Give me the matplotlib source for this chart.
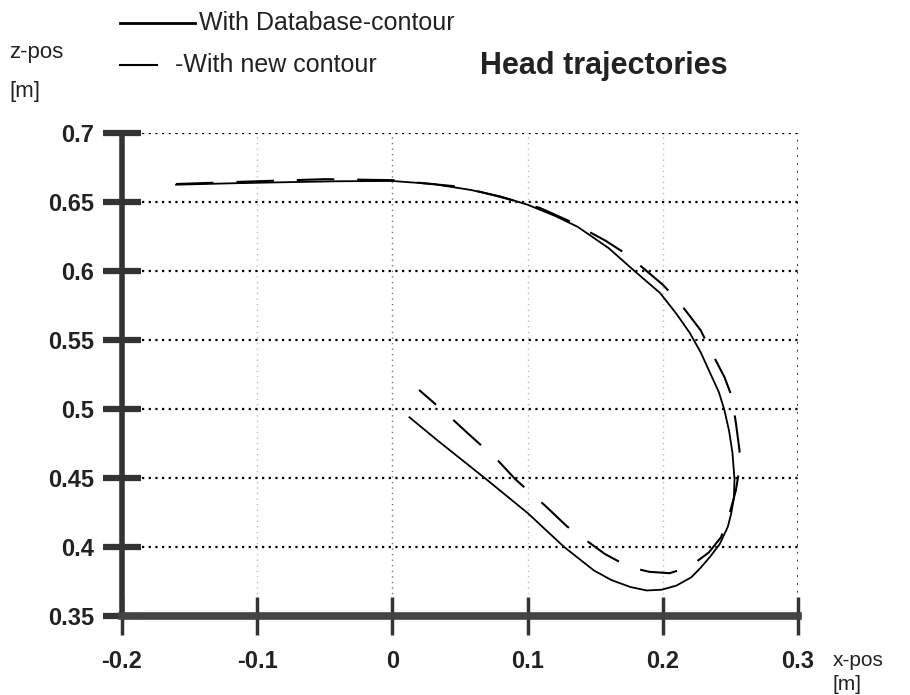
import matplotlib
matplotlib.use("Agg")
import matplotlib.pyplot as plt
from matplotlib.lines import Line2D

plt.rcParams["font.family"] = ["Liberation Sans", "DejaVu Sans"]

# Head trajectory with the database contour (solid)
db_x = [-0.16, -0.12, -0.08, -0.04, 0.0, 0.03, 0.058, 0.08, 0.1, 0.12, 0.137,
        0.16, 0.179, 0.198, 0.21, 0.22, 0.228, 0.235, 0.2415, 0.2455, 0.249, 0.2515,
        0.253, 0.2525, 0.2505, 0.248, 0.242, 0.235, 0.228, 0.221, 0.21, 0.199,
        0.188, 0.176, 0.162, 0.149, 0.127, 0.1, 0.07, 0.033, 0.0126]
db_z = [0.6625, 0.6635, 0.6643, 0.665, 0.6652, 0.663, 0.6587, 0.654, 0.648, 0.64, 0.632,
        0.6165, 0.6, 0.584, 0.569, 0.555, 0.541, 0.526, 0.512, 0.4993, 0.484, 0.468,
        0.449, 0.435, 0.424, 0.4145, 0.402, 0.393, 0.385, 0.378, 0.372, 0.369,
        0.3685, 0.371, 0.376, 0.383, 0.4, 0.4246, 0.4486, 0.4775, 0.494]

# Head trajectory with the new contour (dashed)
new_x = [-0.16, -0.1, -0.05, 0.0, 0.05, 0.08, 0.109, 0.13, 0.1575, 0.174, 0.2,
         0.212, 0.228, 0.235, 0.2456, 0.251, 0.254, 0.2567, 0.2565, 0.254, 0.249,
         0.243, 0.234, 0.223, 0.213, 0.205, 0.19, 0.175, 0.157, 0.129, 0.114, 0.091,
         0.0777, 0.0555, 0.041, 0.0197]
new_z = [0.663, 0.665, 0.6665, 0.6658, 0.661, 0.6536, 0.6457, 0.6365, 0.622, 0.6116, 0.59,
         0.5775, 0.557, 0.543, 0.523, 0.509, 0.49, 0.47, 0.456, 0.441, 0.423,
         0.407, 0.396, 0.388, 0.3835, 0.381, 0.382, 0.3855, 0.395, 0.415, 0.429, 0.449,
         0.463, 0.4826, 0.4957, 0.5138]

x_ticks = [-0.2, -0.1, 0, 0.1, 0.2, 0.3]
x_labels = ["-0.2", "-0.1", "0", "0.1", "0.2", "0.3"]
z_ticks = [0.35, 0.4, 0.45, 0.5, 0.55, 0.6, 0.65, 0.7]
z_labels = ["0.35", "0.4", "0.45", "0.5", "0.55", "0.6", "0.65", "0.7"]

fig = plt.figure(figsize=(9.1, 6.95), dpi=100)
ax = fig.add_axes([0.134, 0.1137, 0.743, 0.695])

ax.plot(db_x, db_z, color="black", lw=1.3)
ax.plot(new_x, new_z, color="black", lw=1.5, linestyle=(0, (18, 11)))

ax.set_xlim(-0.2, 0.3)
ax.set_ylim(0.35, 0.7)
ax.set_xticks(x_ticks)
ax.set_xticklabels(x_labels)
ax.set_yticks(z_ticks)
ax.set_yticklabels(z_labels)
for lab in ax.get_xticklabels() + ax.get_yticklabels():
    lab.set_fontweight("bold")
    lab.set_color("#222222")

# heavy axes, no box
for side in ["top", "right"]:
    ax.spines[side].set_visible(False)
ax.spines["left"].set_linewidth(4)
ax.spines["bottom"].set_linewidth(5.5)
ax.spines["left"].set_color("#333333")
ax.spines["bottom"].set_color("#444444")
ax.tick_params(axis="y", direction="inout", length=28, width=4.5, color="#333333",
               pad=6, labelsize=17)
ax.tick_params(axis="x", direction="inout", length=27, width=2.5, color="#333333",
               pad=11, labelsize=17)

# dotted grid
ax.grid(axis="y", color="black", linestyle=(0, (1, 2)), lw=1.6)
ax.grid(axis="x", color="#bbbbbb", linestyle=(0, (1, 3)), lw=1.0)
xgl = ax.get_xgridlines()
xgl[2].set_color("#777777")
xgl[5].set_color("#333333")
xgl[5].set_linewidth(1.4)
ax.set_axisbelow(True)

# legend drawn by hand above the plot
fig.add_artist(Line2D([0.132, 0.214], [0.967, 0.967], color="black", lw=2))
fig.text(0.219, 0.967, "With Database-contour", fontsize=18, va="center", color="#222222")
fig.add_artist(Line2D([0.132, 0.172], [0.906, 0.906], color="black", lw=1.5))
fig.text(0.192, 0.906, "-With new contour", fontsize=18, va="center", color="#222222")
fig.text(0.528, 0.905, "Head trajectories", fontsize=22, fontweight="bold", va="center",
         color="#222222")

fig.text(0.010, 0.925, "z-pos", fontsize=16, va="center", color="#222222")
fig.text(0.010, 0.869, "[m]", fontsize=16, va="center", color="#222222")
fig.text(0.915, 0.049, "x-pos", fontsize=15, va="center", color="#222222")
fig.text(0.915, 0.015, "[m]", fontsize=15, va="center", color="#222222")

fig.savefig("out.png", dpi=100)
